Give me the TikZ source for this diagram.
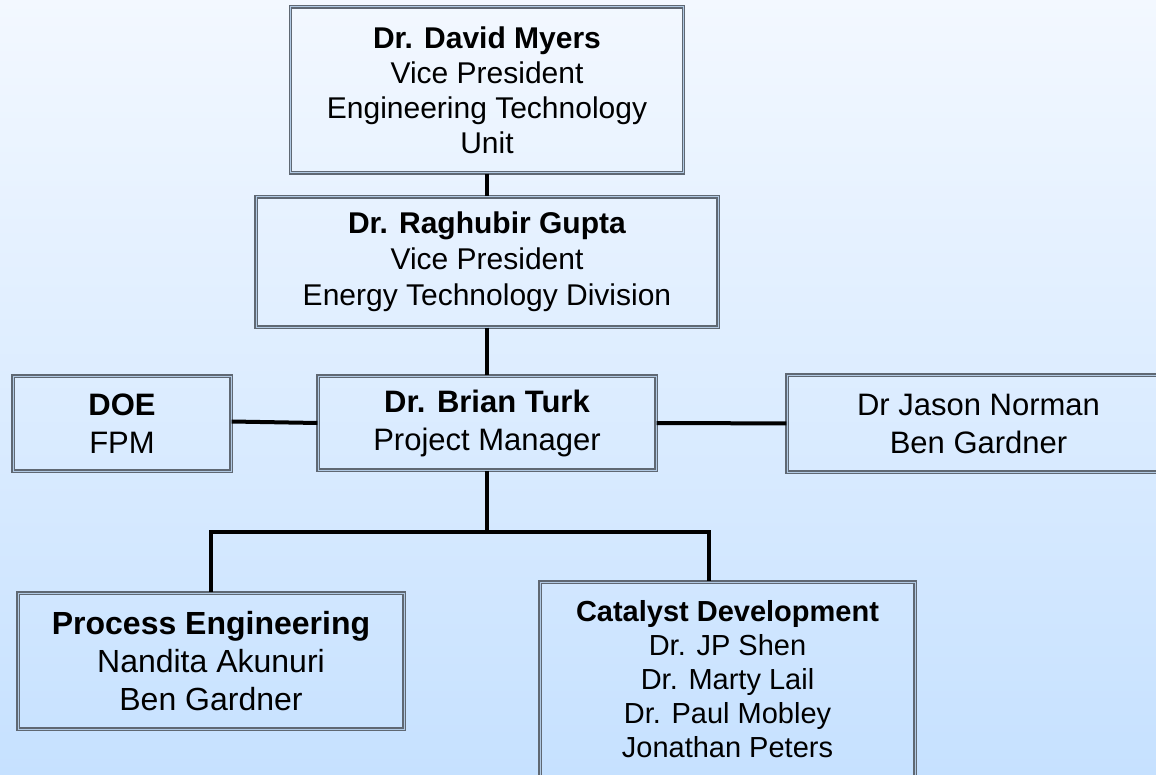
\documentclass[tikz,border=0pt]{standalone}
\usepackage{fontspec}
\setmainfont{Liberation Sans}
\definecolor{bgtop}{HTML}{F3F8FF}
\definecolor{bgbot}{HTML}{C6E1FF}
\definecolor{boxline}{HTML}{5F6873}

\tikzset{
  orgbox/.style = {draw = boxline, double = boxline!20!bgbot, double distance = 0.5pt,
                   line width = 0.55pt, align = center, inner sep = 0pt},
  link/.style = {draw = black, line width = 2pt}
}

\begin{document}
\begin{tikzpicture}[x = 0.5pt, y = -0.5pt]

\clip (0, 0) rectangle (1156, 775);
\shade [top color = bgtop, bottom color = bgbot] (0, 0) rectangle (1156, 775);

\node [orgbox, minimum width = 196.5pt, minimum height = 83pt, font = \fontsize{15}{17.5}\selectfont] (myers) at (487, 90) {\textbf{Dr. David Myers}\\Vice President\\Engineering Technology\\Unit};
\node [orgbox, minimum width = 231pt, minimum height = 65pt, font = \fontsize{15}{18}\selectfont] (gupta) at (487, 262) {\textbf{Dr. Raghubir Gupta}\\Vice President\\Energy Technology Division};

\node [orgbox, minimum width = 109pt, minimum height = 47.5pt, font = \fontsize{15.5}{19}\selectfont] (doe) at (122, 423.5) {\textbf{DOE}\\FPM};
\node [orgbox, minimum width = 169pt, minimum height = 47pt, font = \fontsize{15.5}{19}\selectfont] (turk) at (487, 423) {\textbf{Dr. Brian Turk}\\Project Manager};
\node [orgbox, minimum width = 191.5pt, minimum height = 48.5pt, font = \fontsize{15.5}{19}\selectfont] (norman) at (978.5, 423.5) {Dr Jason Norman\\Ben Gardner};

\node [orgbox, minimum width = 193pt, minimum height = 68pt, font = \fontsize{16}{19}\selectfont] (proc) at (211, 661) {\textbf{Process Engineering}\\Nandita Akunuri\\Ben Gardner};
\node [orgbox, minimum width = 187.5pt, minimum height = 118pt] (cat) at (727.5, 700) {};
\node [align = center, font = \fontsize{14.5}{17}\selectfont] (catnames) at (727.5, 679) {\textbf{Catalyst Development}\\Dr. JP Shen\\Dr. Marty Lail\\Dr. Paul Mobley\\Jonathan Peters};

\path [link] (myers.south) -- (gupta.north);
\path [link] (gupta.south) -- (turk.north);
\path [link] ([yshift = 1pt]doe.east) -- (turk.west);
\path [link] (turk) -- (norman);

\coordinate (split) at (487, 532);
\path [link] (turk.south) -- (split);
\path [link] (split) -| (proc.north);
\path [link] (split) -| ([xshift = -9.25pt]cat.north);

\end{tikzpicture}
\end{document}
